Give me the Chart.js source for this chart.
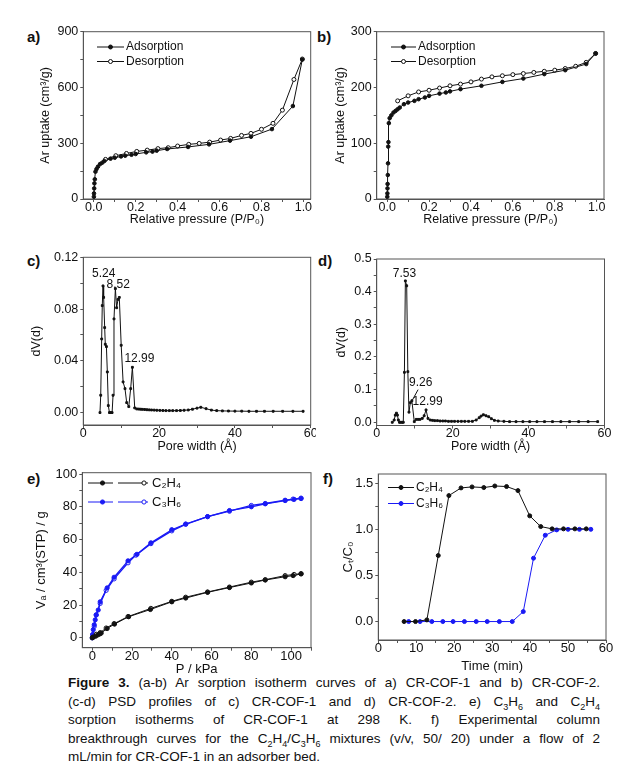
<!DOCTYPE html>
<html>
<head>
<meta charset="utf-8">
<script src="https://cdn.jsdelivr.net/npm/chart.js@4.4.1/dist/chart.umd.min.js"></script>
<style>
  body { margin:0; width:632px; height:784px; position:relative; overflow:hidden; background:#fff;
         font-family:"Liberation Sans", Arial, sans-serif; color:#111; }
  canvas { position:absolute; }
  .lbl { position:absolute; font-weight:bold; font-size:15px; line-height:15px; }
  .cap { position:absolute; left:68px; top:674px; width:532px; font-size:13.5px; line-height:18.5px; }
  .cap div { text-align:justify; text-align-last:justify; white-space:nowrap; }
  .cap div.last { text-align-last:left; }
  .cap sub { font-size:9px; line-height:0; }
</style>
</head>
<body>
<div class="lbl" style="left:27px;top:29px">a)</div>
<div class="lbl" style="left:317px;top:29px">b)</div>
<div class="lbl" style="left:27px;top:253px">c)</div>
<div class="lbl" style="left:318px;top:253px">d)</div>
<div class="lbl" style="left:27px;top:471px">e)</div>
<div class="lbl" style="left:323px;top:471px">f)</div>

<div class="cap">
  <div><b>Figure 3.</b> (a-b) Ar sorption isotherm curves of a) CR-COF-1 and b) CR-COF-2.</div>
  <div>(c-d) PSD profiles of c) CR-COF-1 and d) CR-COF-2. e) C<sub>3</sub>H<sub>6</sub> and C<sub>2</sub>H<sub>4</sub></div>
  <div>sorption isotherms of CR-COF-1 at 298 K. f) Experimental column</div>
  <div>breakthrough curves for the C<sub>2</sub>H<sub>4</sub>/C<sub>3</sub>H<sub>6</sub> mixtures (v/v, 50/ 20) under a flow of 2</div>
  <div class="last">mL/min for CR-COF-1 in an adsorber bed.</div>
</div>

<script>
// a) CR-COF-1, Ar isotherm
const aAdsP = [0.0005,0.001,0.002,0.003,0.005,0.008,0.013,0.02,0.03,0.04,0.05,0.08,0.10,0.13,0.15,0.18,0.20,0.25,0.28,0.30,0.35,0.45,0.55,0.65,0.75,0.85,0.95,0.995];
const aAdsV = [12,30,57,84,106,147,161,174,188,195,204,217,222,229,233,238,242,251,255,260,269,280,294,314,335,376,500,750];
const aDesP = [0.995,0.955,0.90,0.855,0.80,0.75,0.705,0.653,0.605,0.553,0.503,0.453,0.40,0.355,0.306,0.255,0.205,0.156,0.105,0.056];
const aDesV = [753,643,478,407,375,353,342,326,317,306,299,294,285,276,271,263,256,245,233,213];

// b) CR-COF-2, Ar isotherm
const bAdsP = [0.0005,0.001,0.0015,0.002,0.003,0.004,0.005,0.006,0.008,0.012,0.02,0.03,0.04,0.05,0.06,0.08,0.10,0.13,0.15,0.18,0.20,0.25,0.28,0.30,0.35,0.45,0.55,0.65,0.75,0.85,0.95,0.995];
const bAdsV = [4,10,19,27,43,64,94,102,136,145,150,155,158,161,164,170,173,176,179,182,185,189,191,193,197,203,210,216,224,231,242,261];
const bDesP = [0.995,0.95,0.90,0.85,0.80,0.75,0.70,0.65,0.60,0.55,0.50,0.45,0.40,0.35,0.30,0.25,0.20,0.15,0.10,0.05];
const bDesV = [261,245,238,234,231,229,227,225,223,221,219,215,210,206,203,199,195,192,185,176];

// c) PSD CR-COF-1
const cW = [4.4,4.6,4.85,5.0,5.2,5.37,5.64,5.8,6.1,6.34,6.6,6.9,7.2,7.6,7.85,8.1,8.46,8.8,9.16,9.5,10.0,10.5,11.0,11.45,12.0,12.5,12.95,13.57,14.1,14.6,15.1,15.6,16.2,16.8,17.4,18.0,18.7,19.4,20.2,21.0,21.8,22.7,23.6,24.6,25.6,26.6,27.7,28.8,30.0,31.0,32.4,33.8,35.2,36.7,38.3,40.0,41.8,43.7,45.7,47.8,50.1,52.6,55.3,58.0];
const cD = [0,0.0134,0.0569,0.0827,0.0979,0.089,0.0657,0.0528,0.051,0.0314,0.0054,0,0,0,0.0134,0.0724,0.0958,0.081,0.0875,0.089,0.052,0.0237,0.0185,0.0077,0.0046,0.0185,0.035,0.0036,0.0028,0.0027,0.0026,0.0025,0.0024,0.0022,0.0021,0.002,0.0019,0.0018,0.0017,0.0016,0.0015,0.0015,0.0015,0.0015,0.0016,0.0018,0.002,0.0026,0.0034,0.0041,0.003,0.0019,0.0015,0.0013,0.0012,0.0011,0.0011,0.001,0.001,0.001,0.001,0.001,0.001,0.001];

// d) PSD CR-COF-2
const dW = [4.1,4.6,4.9,5.2,5.45,5.7,6.0,6.3,6.7,7.0,7.3,7.55,7.9,8.2,8.5,8.85,9.26,9.9,10.4,10.9,11.4,12.0,12.5,13.0,13.5,14.1,14.7,15.3,16.0,16.7,17.4,18.1,18.9,19.7,20.5,21.4,22.3,23.2,24.2,25.2,26.2,27.0,27.5,28.1,28.8,29.5,30.2,31.0,32.0,33.5,35.0,36.7,38.5,40.3,42.2,44.2,46.3,48.5,50.8,53.2,55.7,58.2];
const dD = [0,0.007,0.022,0.028,0.022,0.007,0,0,0,0,0.153,0.433,0.418,0.155,0.031,0.060,0.066,0.002,0.009,0.009,0.009,0.012,0.02,0.038,0.012,0.007,0.006,0.005,0.005,0.004,0.004,0.004,0.003,0.003,0.003,0.003,0.003,0.003,0.003,0.003,0.007,0.014,0.019,0.023,0.020,0.017,0.011,0.006,0.004,0.003,0.002,0.002,0.002,0.002,0.002,0.002,0.002,0.002,0.002,0.002,0.002,0.002];

// e) C2H4 / C3H6 isotherms, 298 K
const eC3AdsP = [0,0.2,0.5,1,1.5,2,3,4,7.5,11,18,22.5,29.5,40,47,58,69,80,87,97,101.5,105];
const eC3AdsV = [0,2,5,8,11,14,17,22,30.5,37,47,51,58,66,69.5,74,77.7,80,81.8,83.8,84.5,85];
const eC3DesP = [105,101,97,87,80,69,58,47,40,29.5,22,18,11,7,4,2,1,0.3];
const eC3DesV = [85.3,84.7,84,82,80.8,77.3,74,69.3,65.3,57.5,50.5,45.8,36,29,21,14,7,2];
const eC2AdsP = [0,0.3,1.7,2.8,3.8,4.5,7.5,11.2,18.3,29.2,40,47,58,69,80,87,97,101,105];
const eC2AdsV = [0,0.3,1,1.8,2.4,2.9,5.7,8.4,12.9,17.3,22,24.3,27.8,30.7,33.5,35.3,37.3,38,39];
const eC2DesP = [105,101.5,97,87,80,69,58,47,40,29.5,18,11,7,4,2,0.5];
const eC2DesV = [39.2,38.7,38,35.5,34,31,28,24.8,22.3,18,13,8.7,6,3.2,2.2,0.5];

// f) breakthrough curves
const fT2 = [6.8,9.8,12.8,15.8,18.6,21.8,24.7,27.8,30.7,33.8,36.8,39.9,42.8,45.8,48.8,51.8,54.8];
const fC2 = [0,0,0.018,0.716,1.366,1.449,1.46,1.453,1.47,1.464,1.42,1.146,1.03,1.005,1.005,1.005,1.005];
const fT3 = [8.0,11.0,14.1,17.0,19.7,22.7,25.8,28.7,31.9,35.3,38.2,40.9,44.0,47.0,50.0,53.0,56.0];
const fC3 = [0,0,0,0,0,0,0,0,0,0,0.108,0.687,0.936,0.994,1.0,1.0,1.0];

// tick labels
const isoTicks = [0,0.2,0.4,0.6,0.8,1.0];
const aYTicks = [0,300,600,900];
const bYTicks = [0,100,200,300];
const poreTicks = [0,20,40,60];
const cYTicks = [0,0.04,0.08,0.12];
const dYTicks = [0,0.1,0.2,0.3,0.4,0.5];
const eXTicks = [0,20,40,60,80,100];
const eYTicks = [0,20,40,60,80,100];
const fXTicks = [0,10,20,30,40,50,60];
const fYTicks = [0,0.5,1.0,1.5];

const BLUE = '#1a1af5';
const FONT = '"Liberation Sans", Arial, sans-serif';
Chart.defaults.font.family = FONT;
Chart.defaults.color = '#111';

const pts = (xs, ys) => xs.map((x, i) => ({x, y: ys[i]}));

function series(xs, ys, color, open, r, style, lw) {
  return {
    data: pts(xs, ys), showLine: true, borderColor: color, borderWidth: lw || 1,
    backgroundColor: open ? '#fff' : color, pointBorderColor: color,
    pointBackgroundColor: open ? '#fff' : color, pointRadius: r, pointBorderWidth: 1,
    pointStyle: style || 'circle', tension: 0
  };
}

// outer box round the plot area
const frame = {
  id: 'frame',
  beforeDatasetsDraw(c) {
    const a = c.chartArea, ctx = c.ctx;
    ctx.save();
    ctx.strokeStyle = '#555';
    ctx.lineWidth = 1;
    ctx.strokeRect(a.left, a.top, a.right - a.left, a.bottom - a.top);
    ctx.restore();
  }
};

// legend drawn as in the figure: line segment with marker, text after it
const lineLegend = {
  id: 'lineLegend',
  afterDraw(c, args, o) {
    if (!o.rows) return;
    const ctx = c.ctx;
    ctx.save();
    o.rows.forEach((row, r) => {
      const y = o.y - o.oy + r * o.dy;
      row.sets.forEach((si, k) => {
        const ds = c.data.datasets[si];
        const seg = o.segs[k];
        ctx.strokeStyle = ds.borderColor;
        ctx.lineWidth = 1;
        ctx.beginPath();
        ctx.moveTo(seg[0] - o.ox, y);
        ctx.lineTo(seg[1] - o.ox, y);
        ctx.stroke();
        ctx.beginPath();
        ctx.arc(seg[2] - o.ox, y, o.r, 0, Math.PI * 2);
        ctx.fillStyle = ds.pointBackgroundColor;
        ctx.fill();
        ctx.stroke();
      });
      ctx.fillStyle = '#111';
      ctx.font = o.size + 'px ' + FONT;
      ctx.textBaseline = 'middle';
      ctx.fillText(row.label, o.tx - o.ox, y);
    });
    ctx.restore();
  }
};

// peak labels in data coordinates
const notes = {
  id: 'notes',
  afterDraw(c, args, o) {
    if (!o.items) return;
    const ctx = c.ctx, sx = c.scales.x, sy = c.scales.y;
    ctx.save();
    ctx.fillStyle = '#111';
    ctx.font = o.size + 'px ' + FONT;
    ctx.textAlign = 'center';
    ctx.textBaseline = 'middle';
    o.items.forEach(n => ctx.fillText(n.t, sx.getPixelForValue(n.x), sy.getPixelForValue(n.y)));
    ctx.strokeStyle = '#111';
    ctx.lineWidth = 1;
    (o.arrows || []).forEach(a => {
      ctx.beginPath();
      ctx.moveTo(sx.getPixelForValue(a[0]), sy.getPixelForValue(a[1]));
      ctx.lineTo(sx.getPixelForValue(a[2]), sy.getPixelForValue(a[3]));
      ctx.stroke();
    });
    ctx.restore();
  }
};

function axis(pos, o, fixed, titlePad) {
  const major = o.major;
  const d = major[1] - major[0];
  const vals = [];
  for (let v = major[0] - d / 2; v <= o.max + 1e-9; v += d / 2) {
    if (v >= o.min - 1e-9) vals.push(+v.toFixed(6));
  }
  const horiz = pos === 'bottom';
  return {
    type: 'linear', position: pos, min: o.min, max: o.max,
    afterBuildTicks: s => { s.ticks = vals.map(v => ({value: v})); },
    ticks: {
      autoSkip: false, maxRotation: 0, padding: horiz ? -2 : 2, color: '#111',
      font: {size: o.size},
      callback: v => major.some(m => Math.abs(m - v) < 1e-9) ? v.toFixed(o.dec) : ''
    },
    grid: { drawOnChartArea: false, tickLength: 3, color: '#555' },
    border: { color: '#555' },
    title: {
      display: true, text: o.title, color: '#111', font: {size: o.size},
      padding: horiz ? {top: 0, bottom: titlePad} : {top: titlePad, bottom: 0}
    },
    afterFit: s => {
      if (horiz) s.height = fixed; else s.width = fixed;
      s.paddingLeft = s.paddingRight = s.paddingTop = s.paddingBottom = 0;
    }
  };
}

function panel(box, plot, datasets, xo, yo, extra) {
  const cv = document.createElement('canvas');
  cv.width = box.w; cv.height = box.h;
  cv.style.left = box.x + 'px';
  cv.style.top = box.y + 'px';
  document.body.appendChild(cv);
  const xlh = xo.size * 1.2, ylh = yo.size * 1.2;
  const leg = extra.legend ? Object.assign({ox: box.x, oy: box.y}, extra.legend) : {};
  return new Chart(cv, {
    type: 'scatter',
    data: { datasets },
    options: {
      responsive: false, animation: false, devicePixelRatio: 1,
      layout: { padding: { left: 0, bottom: 0, top: plot.t - box.y, right: box.x + box.w - plot.r } },
      scales: {
        x: axis('bottom', xo, box.y + box.h - plot.b, box.y + box.h - xo.at - xlh / 2),
        y: axis('left', yo, plot.l - box.x, yo.at - box.x - ylh / 2)
      },
      plugins: {
        legend: { display: false }, tooltip: { enabled: false },
        lineLegend: leg, notes: extra.notes || {}
      }
    },
    plugins: [frame, lineLegend, notes]
  });
}

// a)
panel({x: 0, y: 20, w: 316, h: 215}, {l: 83.3, t: 31.7, r: 310.7, b: 199},
  [series(aAdsP, aAdsV, '#111', false, 1.8), series(aDesP, aDesV, '#111', true, 2)],
  {min: -0.05, max: 1.035, major: isoTicks, dec: 1, size: 12.5, title: 'Relative pressure (P/P\u2080)', at: 220},
  {min: 0, max: 900, major: aYTicks, dec: 0, size: 12.5, title: 'Ar uptake (cm\u00b3/g)', at: 46},
  {legend: {rows: [{label: 'Adsorption', sets: [0]}, {label: 'Desorption', sets: [1]}],
            y: 47, dy: 14.5, segs: [[97, 124, 110.5]], tx: 126, r: 2, size: 12}});

// b)
panel({x: 316, y: 20, w: 316, h: 215}, {l: 376.7, t: 31.7, r: 604, b: 199},
  [series(bAdsP, bAdsV, '#111', false, 1.8), series(bDesP, bDesV, '#111', true, 2)],
  {min: -0.05, max: 1.035, major: isoTicks, dec: 1, size: 12.5, title: 'Relative pressure (P/P\u2080)', at: 220},
  {min: 0, max: 300, major: bYTicks, dec: 0, size: 12.5, title: 'Ar uptake (cm\u00b3/g)', at: 341},
  {legend: {rows: [{label: 'Adsorption', sets: [0]}, {label: 'Desorption', sets: [1]}],
            y: 47, dy: 14.5, segs: [[391, 416, 403.5]], tx: 418, r: 2, size: 12}});

// c)
panel({x: 0, y: 245, w: 316, h: 212}, {l: 83.3, t: 257.3, r: 310.7, b: 425},
  [series(cW, cD, '#111', false, 1.3, 'rect')],
  {min: 0, max: 60, major: poreTicks, dec: 0, size: 12.5, title: 'Pore width (\u00c5)', at: 447},
  {min: -0.0096, max: 0.12, major: cYTicks, dec: 2, size: 12.5, title: 'dV(d)', at: 37},
  {notes: {size: 12, items: [{t: '5.24', x: 5.4, y: 0.1075}, {t: '8.52', x: 9.2, y: 0.099}, {t: '12.99', x: 14.8, y: 0.042}]}});

// d)
panel({x: 316, y: 245, w: 316, h: 212}, {l: 376.7, t: 259, r: 604.5, b: 425.5},
  [series(dW, dD, '#111', false, 1.3, 'rect')],
  {min: 0, max: 60, major: poreTicks, dec: 0, size: 12.5, title: 'Pore width (\u00c5)', at: 447},
  {min: -0.0098, max: 0.5, major: dYTicks, dec: 1, size: 12.5, title: 'dV(d)', at: 341.5},
  {notes: {size: 12, items: [{t: '7.53', x: 7.3, y: 0.456}, {t: '9.26', x: 11.6, y: 0.121}, {t: '12.99', x: 13.4, y: 0.062}],
           arrows: [[10.9, 0.1, 9.4, 0.068]]}});

// e)
panel({x: 0, y: 465, w: 316, h: 215}, {l: 82.3, t: 472.7, r: 311.7, b: 647.7},
  [series(eC2AdsP, eC2AdsV, '#111', false, 2.1), series(eC2DesP, eC2DesV, '#111', true, 2.1),
   series(eC3AdsP, eC3AdsV, BLUE, false, 2.1, 'circle', 1.3), series(eC3DesP, eC3DesV, BLUE, true, 2.1, 'circle', 1.3)],
  {min: -5, max: 110, major: eXTicks, dec: 0, size: 13, title: 'P / kPa', at: 669},
  {min: -6, max: 100.8, major: eYTicks, dec: 0, size: 13, title: 'V\u2090 / cm\u00b3(STP) / g', at: 41},
  {legend: {rows: [{label: 'C\u2082H\u2084', sets: [0, 1]}, {label: 'C\u2083H\u2086', sets: [2, 3]}],
            y: 483, dy: 19, segs: [[88, 113, 102.5], [118, 148, 144]], tx: 152, r: 2.1, size: 13}});

// f)
panel({x: 316, y: 465, w: 316, h: 215}, {l: 378.3, t: 474, r: 606, b: 640},
  [series(fT2, fC2, '#111', false, 2), series(fT3, fC3, BLUE, false, 2)],
  {min: 0, max: 60, major: fXTicks, dec: 0, size: 13, title: 'Time (min)', at: 666},
  {min: -0.2, max: 1.6, major: fYTicks, dec: 1, size: 13, title: 'C\u209c/C\u2080', at: 348},
  {legend: {rows: [{label: 'C\u2082H\u2084', sets: [0]}, {label: 'C\u2083H\u2086', sets: [1]}],
            y: 487.5, dy: 16, segs: [[388, 414, 401]], tx: 416, r: 2, size: 12}});
</script>
</body>
</html>
